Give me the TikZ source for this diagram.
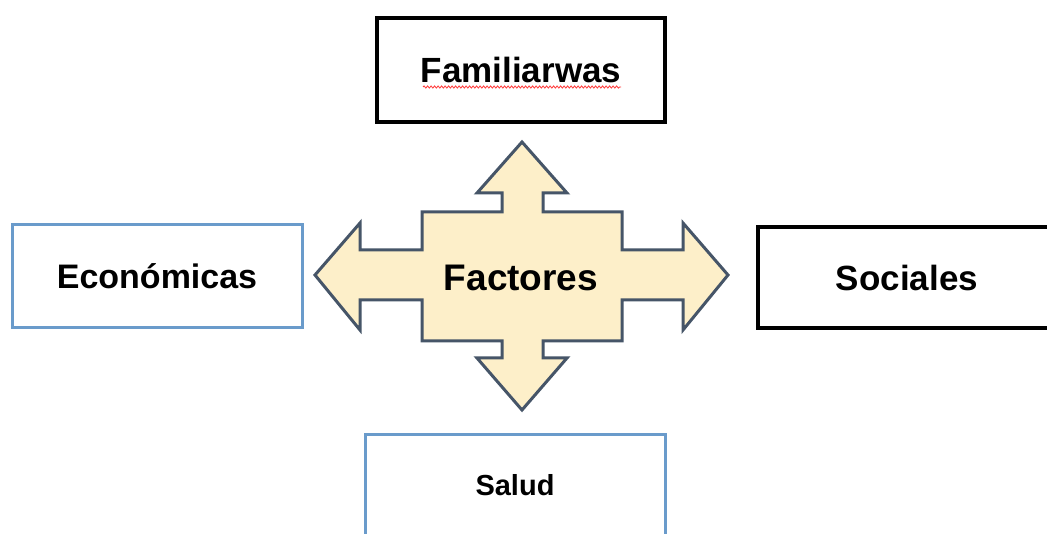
\documentclass[tikz,border=0pt]{standalone}
\usepackage{fontspec}
\setmainfont{Liberation Sans}
\usetikzlibrary{decorations.pathmorphing,calc}
\definecolor{boxblue}{HTML}{6A9BCB}
\definecolor{arrowline}{HTML}{465568}
\definecolor{arrowfill}{HTML}{FDEFC9}
\begin{document}
\begin{tikzpicture}[x=1pt,y=-1pt,
  boxnode/.style={draw, fill=white, inner sep=0pt, font=\bfseries\fontsize{34}{34}\selectfont},
  blackbox/.style={boxnode, draw=black, line width=4pt},
  bluebox/.style={boxnode, draw=boxblue, line width=3pt}]
\useasboundingbox (0,0) rectangle (1047,534);
\clip (0,0) rectangle (1047,534);
\fill[white] (0,0) rectangle (1047,534);
% central four-way arrow
\draw[arrowline, fill=arrowfill, line width=3pt, line join=miter]
  (522,142) -- (567,193) -- (543,193) -- (543,212) -- (622,212) -- (622,250)
  -- (683,250) -- (683,223) -- (728,275) -- (683,330) -- (683,300) -- (622,300)
  -- (622,341) -- (543,341) -- (543,358) -- (567,358) -- (522,410) -- (477,358)
  -- (502,358) -- (502,341) -- (422,341) -- (422,300) -- (360,300) -- (360,330)
  -- (315,275) -- (360,223) -- (360,250) -- (422,250) -- (422,212) -- (502,212)
  -- (502,193) -- (477,193) -- cycle;
\node[font=\bfseries\fontsize{37}{37}\selectfont] (fac) at (521,278) {Factores};
% boxes
\node[blackbox, minimum width=288pt, minimum height=104pt, font=\bfseries\fontsize{35}{35}\selectfont] (fam) at (521,70) {Familiarwas};
\draw[red!80, line width=0.8pt, decorate, decoration={snake, amplitude=1.1pt, segment length=3.5pt}]
  ($(fam.center)+(-98,17)$) coordinate (w1) -- ++(198,0) coordinate (w2);
\node[bluebox, minimum width=290pt, minimum height=103pt] (eco) at (157,276.5) {Económicas};
\node[blackbox, minimum width=298pt, minimum height=101pt, font=\bfseries\fontsize{35}{35}\selectfont] (soc) at (907,277.5) {Sociales};
\node[bluebox, minimum width=300pt, minimum height=100pt, font=\bfseries\fontsize{29}{29}\selectfont] (sal) at (515,485) {Salud};
\end{tikzpicture}
\end{document}
